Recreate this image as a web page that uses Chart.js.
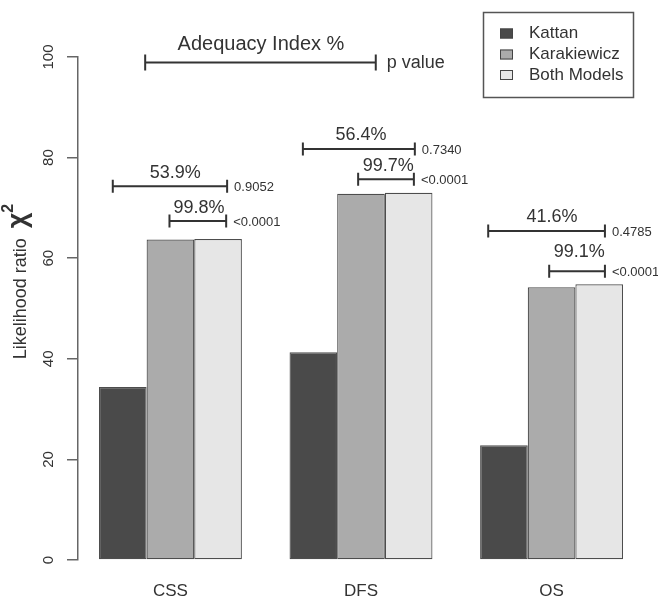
<!DOCTYPE html>
<html>
<head>
<meta charset="utf-8">
<script src="https://cdn.jsdelivr.net/npm/chart.js@4/dist/chart.umd.min.js"></script>
<style>
  html, body { margin: 0; padding: 0; background: #ffffff; }
  canvas { display: block; }
</style>
</head>
<body>
<canvas id="chart" width="658" height="602"></canvas>
<script>
// ---- data ----
const categories = ['CSS', 'DFS', 'OS'];
const seriesNames = ['Kattan', 'Karakiewicz', 'Both Models'];
const kattan = [34.4, 41.3, 22.8];
const karakiewicz = [63.7, 72.8, 54.2];
const bothModels = [63.8, 73.0, 54.8];
const yTicks = [0, 20, 40, 60, 80, 100];

// adequacy index of each single model relative to the combined model, with p values
const adequacyKattan = ['53.9%', '56.4%', '41.6%'];
const pKattan = ['0.9052', '0.7340', '0.4785'];
const adequacyKarakiewicz = ['99.8%', '99.7%', '99.1%'];
const pKarakiewicz = ['<0.0001', '<0.0001', '<0.0001'];

// ---- layout (bar units on x, axis units on y) ----
const GAP = 1, BARS = 3;
const span = categories.length * (BARS + GAP) - GAP;
const xMin = GAP - 0.04 * span;
const xMax = GAP + span + 0.04 * span;
const groupCenter = categories.map((_, i) => GAP + i * (BARS + GAP) + BARS / 2);

// bracket placement: from/to in bar units, at/labelAt in axis units
const outerBrackets = [
  { from: 1.29, to: 3.69, at: 74.3, labelX: 2.60, labelAt: 76.9 },
  { from: 5.28, to: 7.63, at: 81.7, labelX: 6.50, labelAt: 84.4 },
  { from: 9.17, to: 11.62, at: 65.4, labelX: 10.51, labelAt: 68.2 }
];
const innerBrackets = [
  { from: 2.48, to: 3.67, at: 67.4, labelX: 3.10, labelAt: 69.9 },
  { from: 6.44, to: 7.61, at: 75.7, labelX: 7.07, labelAt: 78.3 },
  { from: 10.45, to: 11.62, at: 57.4, labelX: 11.08, labelAt: 61.2 }
];
const keyBracket = { from: 1.97, to: 6.81, at: 98.9, labelX: 4.40, labelAt: 102.4 };

const FONT = '"Liberation Sans", Arial, Helvetica, sans-serif';
const INK = '#333333';
const colors = ['#4a4a4a', '#ababab', '#e6e6e6'];
const seriesValues = [kattan, karakiewicz, bothModels];

const datasets = seriesNames.map((name, s) => ({
  label: name,
  data: seriesValues[s].map((v, i) => ({ x: groupCenter[i], y: v })),
  backgroundColor: colors[s],
  borderColor: '#4d4d4d',
  borderWidth: 1.2,
  borderSkipped: false,
  categoryPercentage: 0.75,
  barPercentage: 1.0
}));

function drawBracket(ctx, xa, xb, yv, cap) {
  ctx.beginPath();
  ctx.moveTo(xa, yv - cap); ctx.lineTo(xa, yv + cap);
  ctx.moveTo(xa, yv); ctx.lineTo(xb, yv);
  ctx.moveTo(xb, yv - cap); ctx.lineTo(xb, yv + cap);
  ctx.stroke();
}

const annotations = {
  id: 'annotations',
  afterDraw(chart) {
    const { ctx } = chart;
    const x = chart.scales.x, y = chart.scales.y;
    ctx.save();
    ctx.strokeStyle = '#333333';
    ctx.fillStyle = INK;
    ctx.lineWidth = 2;

    // key bracket
    const kb = keyBracket;
    drawBracket(ctx, x.getPixelForValue(kb.from), x.getPixelForValue(kb.to), y.getPixelForValue(kb.at), 8);
    ctx.font = '20px ' + FONT;
    ctx.textAlign = 'center';
    ctx.textBaseline = 'middle';
    ctx.fillText('Adequacy Index %', x.getPixelForValue(kb.labelX), y.getPixelForValue(kb.labelAt));
    ctx.font = '18px ' + FONT;
    ctx.textAlign = 'left';
    ctx.fillText('p value', x.getPixelForValue(kb.to) + 11, y.getPixelForValue(kb.at));

    // per-group brackets
    const groups = [
      [outerBrackets, adequacyKattan, pKattan],
      [innerBrackets, adequacyKarakiewicz, pKarakiewicz]
    ];
    groups.forEach(([layout, labels, pvals]) => {
      layout.forEach((b, i) => {
        const xa = x.getPixelForValue(b.from), xb = x.getPixelForValue(b.to);
        const yv = y.getPixelForValue(b.at);
        drawBracket(ctx, xa, xb, yv, 6.5);
        ctx.font = '18px ' + FONT;
        ctx.textAlign = 'center';
        ctx.textBaseline = 'middle';
        ctx.fillText(labels[i], x.getPixelForValue(b.labelX), y.getPixelForValue(b.labelAt));
        ctx.font = '13px ' + FONT;
        ctx.textAlign = 'left';
        ctx.fillText(pvals[i], xb + 7, yv + 1);
      });
    });

    // legend
    ctx.lineWidth = 1.5;
    ctx.strokeStyle = '#555555';
    ctx.strokeRect(483.5, 12.5, 150, 85);
    const rowY = [33.5, 54.5, 75];
    chart.data.datasets.forEach((ds, s) => {
      ctx.fillStyle = ds.backgroundColor;
      ctx.fillRect(500, rowY[s] - 5, 13, 10);
      ctx.lineWidth = 1;
      ctx.strokeStyle = '#444444';
      ctx.strokeRect(500.5, rowY[s] - 4.5, 12, 9);
      ctx.fillStyle = INK;
      ctx.font = '17px ' + FONT;
      ctx.textAlign = 'left';
      ctx.textBaseline = 'middle';
      ctx.fillText(ds.label, 529, rowY[s]);
    });

    // y axis title: "Likelihood ratio" followed by a bold chi-squared
    const cy = (chart.chartArea.top + chart.chartArea.bottom) / 2 - 27;
    ctx.translate(26, cy);
    ctx.rotate(-Math.PI / 2);
    ctx.textBaseline = 'alphabetic';
    ctx.textAlign = 'left';
    const p1 = 'Likelihood ratio  ';
    ctx.font = '18px ' + FONT;
    const w1 = ctx.measureText(p1).width;
    ctx.font = 'bold 27px ' + FONT;
    const w2 = ctx.measureText('χ').width;
    ctx.font = 'bold 16px ' + FONT;
    const w3 = ctx.measureText('2').width;
    let tx = -(w1 + w2 + w3) / 2;
    ctx.fillStyle = INK;
    ctx.font = '18px ' + FONT;
    ctx.fillText(p1, tx, 0);
    tx += w1;
    ctx.font = 'bold 27px ' + FONT;
    ctx.fillText('χ', tx, 0);
    tx += w2;
    ctx.font = 'bold 16px ' + FONT;
    ctx.fillText('2', tx, -13);
    ctx.restore();
  }
};

new Chart(document.getElementById('chart'), {
  type: 'bar',
  data: { datasets },
  options: {
    responsive: false,
    animation: false,
    layout: { padding: { top: 57, right: 14, left: 0, bottom: 0 } },
    plugins: { legend: { display: false }, tooltip: { enabled: false } },
    scales: {
      x: {
        type: 'linear',
        offset: false,
        min: xMin,
        max: xMax,
        afterBuildTicks: (scale) => { scale.ticks = groupCenter.map(v => ({ value: v })); },
        afterFit: (scale) => { scale.height = 42; },
        grid: { display: false, drawTicks: false, offset: false },
        border: { display: false },
        ticks: {
          autoSkip: false,
          maxRotation: 0,
          padding: 21,
          color: INK,
          font: { family: FONT, size: 17 },
          callback: (value, index) => categories[index]
        }
      },
      y: {
        min: 0,
        max: 100,
        afterBuildTicks: (scale) => { scale.ticks = yTicks.map(v => ({ value: v })); },
        afterFit: (scale) => { scale.width = 78; },
        grid: { drawOnChartArea: false, drawTicks: true, tickLength: 11, color: '#666666', lineWidth: 1.5 },
        border: { display: true, color: '#666666', width: 1.5 },
        ticks: {
          minRotation: 90,
          maxRotation: 90,
          crossAlign: 'center',
          padding: 6,
          color: INK,
          font: { family: FONT, size: 15 }
        }
      }
    }
  },
  plugins: [annotations]
});
</script>
</body>
</html>
